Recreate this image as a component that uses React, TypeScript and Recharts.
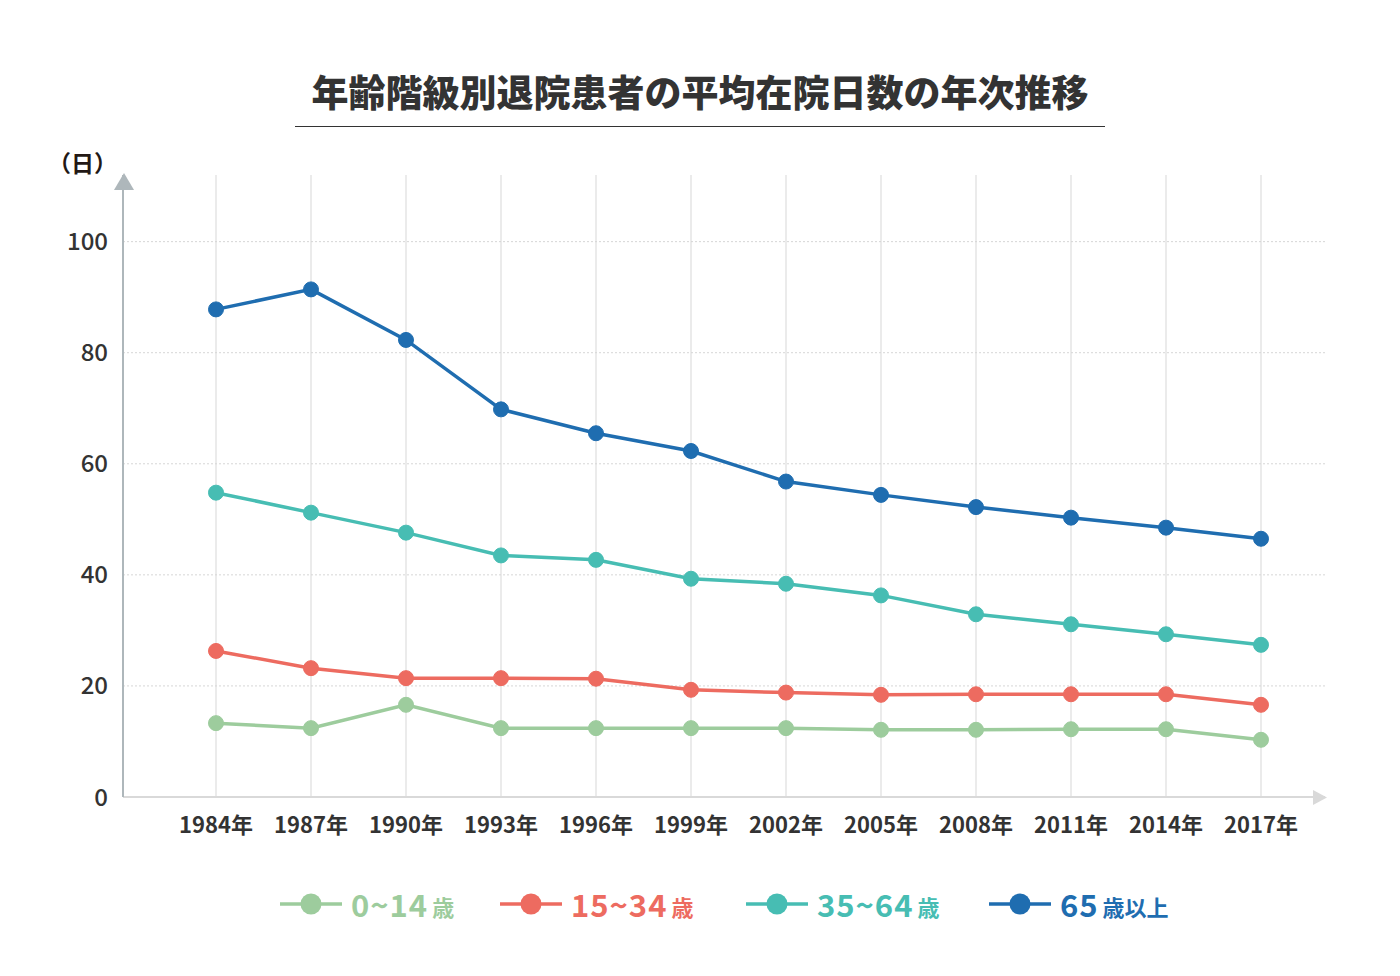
import React from 'react';
import { LineChart, Line, XAxis, YAxis, CartesianGrid } from 'recharts';

// 年次（カテゴリ）
const years = ['1984年', '1987年', '1990年', '1993年', '1996年', '1999年', '2002年', '2005年', '2008年', '2011年', '2014年', '2017年'];

// 年齢階級別の平均在院日数（日）
const age0to14 = [13.3, 12.4, 16.6, 12.4, 12.4, 12.4, 12.4, 12.1, 12.1, 12.2, 12.2, 10.3];
const age15to34 = [26.3, 23.2, 21.4, 21.4, 21.3, 19.3, 18.8, 18.4, 18.5, 18.5, 18.5, 16.6];
const age35to64 = [54.8, 51.2, 47.6, 43.5, 42.7, 39.3, 38.4, 36.3, 32.9, 31.1, 29.3, 27.4];
const age65plus = [87.8, 91.4, 82.3, 69.8, 65.5, 62.3, 56.8, 54.4, 52.2, 50.3, 48.5, 46.5];

const yTicks = [0, 20, 40, 60, 80, 100];
const gridValues = [20, 40, 60, 80, 100];

const FONT = '"Noto Sans CJK JP", "Noto Sans", sans-serif';

const series = [
   { key: 'a', values: age0to14, color: '#9dcc9d', num: '0~14', unit: '歳' },
   { key: 'b', values: age15to34, color: '#ed6b60', num: '15~34', unit: '歳' },
   { key: 'c', values: age35to64, color: '#47bdb3', num: '35~64', unit: '歳' },
   { key: 'd', values: age65plus, color: '#1f6db0', num: '65', unit: '歳以上' },
];

const legendX = [280, 500, 746, 989];

const App = () => {
   const data = years.map((year, i) => {
      const row: Record<string, string | number> = { year };
      series.forEach(s => { row[s.key] = s.values[i]; });
      return row;
   });

   return (
      <div style={{ position: 'absolute', left: 0, top: 0, width: 1400, height: 976, background: '#fff', fontFamily: FONT }}>
         {/* タイトル */}
         <div style={{ position: 'absolute', left: 0, top: 66, width: 1400, textAlign: 'center', fontSize: 37, fontWeight: 900, color: '#333', lineHeight: '50px' }}>
            年齢階級別退院患者の平均在院日数の年次推移
         </div>
         <div style={{ position: 'absolute', left: 295, top: 126, width: 810, height: 1, background: '#333' }} />
         <div style={{ position: 'absolute', left: 48, top: 147, fontSize: 23, fontWeight: 700, color: '#231815', lineHeight: '30px' }}>
            （日）
         </div>

         <div style={{ position: 'absolute', left: 0, top: 0 }}>
            <LineChart width={1400} height={976} data={data} margin={{ top: 175, right: 75, bottom: 149, left: 63 }}>
               <CartesianGrid horizontal={false} vertical={true} verticalValues={years} stroke="#e4e4e4" strokeWidth={1.5} />
               <CartesianGrid horizontal={true} vertical={false} horizontalValues={gridValues} stroke="#d6d6d6" strokeDasharray="2 2" />
               <XAxis
                  dataKey="year"
                  height={30}
                  padding={{ left: 93, right: 64 }}
                  axisLine={{ stroke: '#d9d9d9', strokeWidth: 2 }}
                  tickLine={false}
                  tickSize={0}
                  tickMargin={20}
                  interval={0}
                  tick={{ fontSize: 22, fontWeight: 700, fill: '#333', fontFamily: FONT }}
               />
               <YAxis
                  domain={[0, 112]}
                  ticks={yTicks}
                  width={60}
                  axisLine={{ stroke: '#aeb7bb', strokeWidth: 2 }}
                  tickLine={false}
                  tickSize={0}
                  tickMargin={15}
                  tick={{ fontSize: 24, fontWeight: 500, fill: '#333', fontFamily: FONT }}
               />
               {series.map(s => (
                  <Line
                     key={s.key}
                     type="linear"
                     dataKey={s.key}
                     stroke={s.color}
                     strokeWidth={3.5}
                     dot={{ r: 7.5, fill: s.color, stroke: s.color, strokeWidth: 1 }}
                     activeDot={false}
                     isAnimationActive={false}
                  />
               ))}
            </LineChart>
         </div>

         {/* 軸の矢印 */}
         <svg width={1400} height={976} style={{ position: 'absolute', left: 0, top: 0, pointerEvents: 'none' }}>
            <polygon points="114,190 134,190 124,173" fill="#aeb7bb" />
            <polygon points="1313,790 1313,805 1327,797.5" fill="#d9d9d9" />
         </svg>

         {/* 凡例 */}
         {series.map((s, i) => (
            <div key={s.key} style={{ position: 'absolute', left: legendX[i], top: 883, height: 40, display: 'flex', alignItems: 'center', color: s.color, fontWeight: 700 }}>
               <svg width={62} height={40}>
                  <line x1={0} y1={21} x2={62} y2={21} stroke={s.color} strokeWidth={3.5} />
                  <circle cx={31} cy={21} r={10.5} fill={s.color} />
               </svg>
               <span style={{ marginLeft: 9, fontSize: 31, letterSpacing: 1 }}>{s.num}</span>
               <span style={{ marginLeft: 4, fontSize: 22, marginTop: 6 }}>{s.unit}</span>
            </div>
         ))}
      </div>
   );
};

export default App;
